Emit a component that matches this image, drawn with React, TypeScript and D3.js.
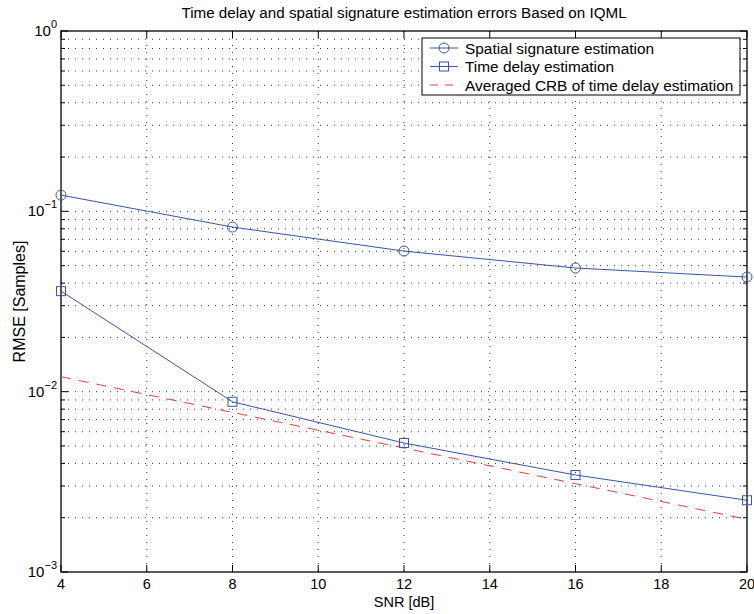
import React from "react";
import * as d3 from "d3";

const snr = [4, 8, 12, 16, 20];
const spatial = [0.123, 0.0818, 0.0602, 0.0485, 0.0432];
const timeDelay = [0.0361, 0.00879, 0.00519, 0.00345, 0.0025];
const crb = [0.0121, 0.00767, 0.00487, 0.00309, 0.00196];
const xTicks = [4, 6, 8, 10, 12, 14, 16, 18, 20];
const yDecades = [-3, -2, -1, 0];
const title = "Time delay and spatial signature estimation errors Based on IQML";
const xLabel = "SNR [dB]";
const yLabel = "RMSE [Samples]";
const legendLabels = [
  "Spatial signature estimation",
  "Time delay estimation",
  "Averaged CRB of time delay estimation",
];

const W = 754, H = 614;
const L = 61, R = 747, T = 31, B = 572;
const BLUE = "#3554b0";
const RED = "#f03a3a";
const FONT = "Liberation Sans, Arial, Helvetica, sans-serif";

export default function App() {
  const x = d3.scaleLinear().domain([4, 20]).range([L, R]);
  const y = d3.scaleLog().domain([1e-3, 1]).range([B, T]);
  const minor: number[] = [];
  for (let e = -3; e < 0; e++) for (let m = 2; m <= 9; m++) minor.push(m * Math.pow(10, e));
  const line = d3.line<[number, number]>().x((d) => x(d[0])).y((d) => y(d[1]));
  const sp = snr.map((s, i) => [s, spatial[i]] as [number, number]);
  const td = snr.map((s, i) => [s, timeDelay[i]] as [number, number]);
  const cr = snr.map((s, i) => [s, crb[i]] as [number, number]);
  const grid = { stroke: "#000", strokeWidth: 1, strokeDasharray: "1,6", opacity: 0.8 };
  const lgX = 422, lgY = 38, lgW = 318, lgH = 57;
  return (
    <svg width={W} height={H} style={{ position: "absolute", left: 0, top: 0, background: "#fff" }} fontFamily={FONT}>
      <rect x={0} y={0} width={W} height={H} fill="#fff" />
      {/* grid */}
      {xTicks.slice(1, -1).map((t) => (
        <line key={"gx" + t} x1={x(t)} x2={x(t)} y1={T} y2={B} {...grid} />
      ))}
      {[...minor, 1e-2, 1e-1].map((v, i) => (
        <line key={"gy" + i} x1={L} x2={R} y1={y(v)} y2={y(v)} {...grid} />
      ))}
      {/* ticks */}
      {xTicks.map((t) => (
        <g key={"tx" + t}>
          <line x1={x(t)} x2={x(t)} y1={B} y2={B - 7} stroke="#000" />
          <line x1={x(t)} x2={x(t)} y1={T} y2={T + 7} stroke="#000" />
          <text x={x(t)} y={589} textAnchor="middle" fontSize={14.5} fill="#000">{t}</text>
        </g>
      ))}
      {minor.map((v, i) => (
        <g key={"my" + i}>
          <line x1={L} x2={L + 4} y1={y(v)} y2={y(v)} stroke="#000" />
          <line x1={R} x2={R - 4} y1={y(v)} y2={y(v)} stroke="#000" />
        </g>
      ))}
      {yDecades.map((e) => (
        <g key={"dy" + e}>
          <line x1={L} x2={L + 7} y1={y(Math.pow(10, e))} y2={y(Math.pow(10, e))} stroke="#000" />
          <line x1={R} x2={R - 7} y1={y(Math.pow(10, e))} y2={y(Math.pow(10, e))} stroke="#000" />
          <text x={L - 4} y={y(Math.pow(10, e)) + 5} textAnchor="end" fontSize={15} fill="#000">
            10
            <tspan dy={-8} fontSize={11}>{e === 0 ? "0" : "\u2212" + -e}</tspan>
          </text>
        </g>
      ))}
      <rect x={L} y={T} width={R - L} height={B - T} fill="none" stroke="#000" strokeWidth={1.3} />
      {/* series */}
      <path d={line(cr) || ""} fill="none" stroke={RED} strokeWidth={1} strokeDasharray="10,8" />
      <path d={line(sp) || ""} fill="none" stroke={BLUE} strokeWidth={1} />
      <path d={line(td) || ""} fill="none" stroke={BLUE} strokeWidth={1} />
      {sp.map((d, i) => (
        <circle key={"c" + i} cx={x(d[0])} cy={y(d[1])} r={5} fill="none" stroke={BLUE} strokeWidth={1} />
      ))}
      {td.map((d, i) => (
        <rect key={"s" + i} x={x(d[0]) - 4.5} y={y(d[1]) - 4.5} width={9} height={9} fill="none" stroke={BLUE} strokeWidth={1} />
      ))}
      {/* legend */}
      <rect x={lgX} y={lgY} width={lgW} height={lgH} fill="#fff" stroke="#000" strokeWidth={1} />
      {legendLabels.map((lab, i) => {
        const yy = lgY + 10 + i * 18.5;
        return (
          <g key={"lg" + i}>
            {i < 2 ? (
              <line x1={lgX + 8} x2={lgX + 36} y1={yy} y2={yy} stroke={BLUE} strokeWidth={1} />
            ) : (
              <line x1={lgX + 8} x2={lgX + 36} y1={yy} y2={yy} stroke={RED} strokeWidth={1} strokeDasharray="8,7" />
            )}
            {i === 0 && <circle cx={lgX + 22} cy={yy} r={5} fill="none" stroke={BLUE} />}
            {i === 1 && <rect x={lgX + 17.5} y={yy - 4.5} width={9} height={9} fill="none" stroke={BLUE} />}
            <text x={lgX + 43} y={yy + 5.5} fontSize={15.4} fill="#000">{lab}</text>
          </g>
        );
      })}
      {/* labels */}
      <text x={(L + R) / 2} y={18} textAnchor="middle" fontSize={15.2} fill="#000">{title}</text>
      <text x={(L + R) / 2} y={607} textAnchor="middle" fontSize={14.5} fill="#000">{xLabel}</text>
      <text transform={`translate(25,${(T + B) / 2}) rotate(-90)`} textAnchor="middle" fontSize={16} fill="#000">{yLabel}</text>
    </svg>
  );
}
